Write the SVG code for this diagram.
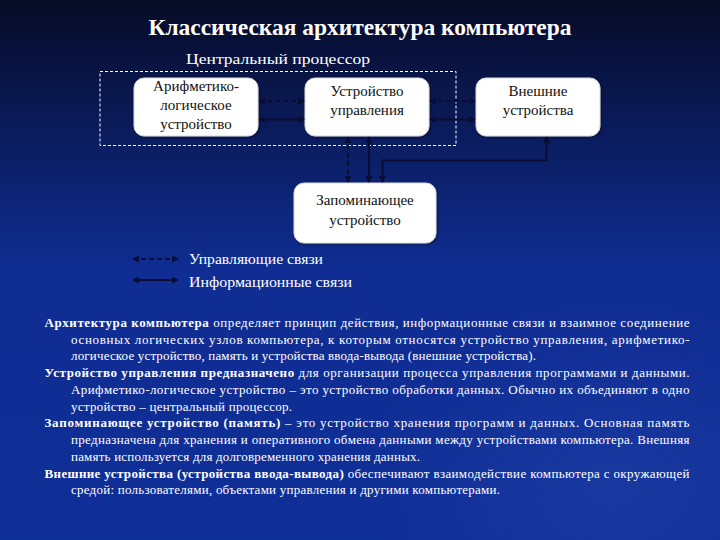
<svg xmlns="http://www.w3.org/2000/svg" width="720" height="540" viewBox="0 0 720 540" font-family="'Liberation Serif', 'Times New Roman', 'DejaVu Serif', serif">
<defs>
<linearGradient id="bg" x1="0" y1="0" x2="0" y2="1">
<stop offset="0" stop-color="#060b26"/>
<stop offset="0.25" stop-color="#0b1c5e"/>
<stop offset="0.5" stop-color="#0f2d92"/>
<stop offset="1" stop-color="#0f2f98"/>
</linearGradient>
<radialGradient id="glow" cx="0.85" cy="0.9" r="0.35">
<stop offset="0" stop-color="#2a4ab0" stop-opacity="0.35"/>
<stop offset="1" stop-color="#2a4ab0" stop-opacity="0"/>
</radialGradient>
<marker id="ah" viewBox="0 0 8 8" refX="7" refY="4" markerWidth="7" markerHeight="7" markerUnits="userSpaceOnUse" orient="auto-start-reverse">
<path d="M0,0 L8,4 L0,8 z" fill="#0a0d33"/>
</marker>
<filter id="sh" x="-10%" y="-10%" width="130%" height="130%">
<feDropShadow dx="1" dy="1" stdDeviation="1" flood-color="#000" flood-opacity="0.5"/>
</filter>
</defs>
<style>
text{font-family:'Liberation Serif','Times New Roman','DejaVu Serif',serif}
.box{fill:#ffffff;stroke:#d8d8d8;stroke-width:1;filter:url(#sh)}
.bt{font-size:15px;fill:#111;text-anchor:middle}
.lab{font-size:15px;fill:#ffffff}
.par{font-size:13px;fill:#ffffff}
.b{font-weight:bold}
.sol{stroke:#0a0d33;stroke-width:2;fill:none}
.dsh{stroke:#0a0d33;stroke-width:2;fill:none;stroke-dasharray:5,3}
</style>
<rect x="0" y="0" width="720" height="540" fill="url(#bg)"/>
<rect x="0" y="0" width="720" height="540" fill="url(#glow)"/>

<text x="360" y="35" font-size="24" font-weight="bold" fill="#ffffff" text-anchor="middle" textLength="423" lengthAdjust="spacingAndGlyphs">Классическая архитектура компьютера</text>

<g id="cpu">
<rect x="100" y="71.5" width="356" height="74" fill="none" stroke="#ffffff" stroke-width="1" stroke-dasharray="3,2"/>
<text class="lab" x="278" y="64" text-anchor="middle" textLength="184" lengthAdjust="spacingAndGlyphs">Центральный процессор</text>
</g>

<g id="alu">
<rect class="box" x="134" y="78" width="124" height="58" rx="10"/>
<text class="bt" x="196" y="91">Арифметико-</text>
<text class="bt" x="196" y="110">логическое</text>
<text class="bt" x="196" y="129">устройство</text>
</g>

<g id="cu">
<rect class="box" x="305" y="78" width="124" height="58" rx="10"/>
<text class="bt" x="367" y="96">Устройство</text>
<text class="bt" x="367" y="115">управления</text>
</g>

<g id="ext">
<rect class="box" x="476" y="78" width="124" height="58" rx="10"/>
<text class="bt" x="538" y="96">Внешние</text>
<text class="bt" x="538" y="115">устройства</text>
</g>

<g id="mem">
<rect class="box" x="294" y="183" width="142" height="60" rx="10"/>
<text class="bt" x="365" y="205">Запоминающее</text>
<text class="bt" x="365" y="225">устройство</text>
</g>

<g id="connectors">
<line class="dsh" x1="259" y1="101" x2="304" y2="101" marker-start="url(#ah)" marker-end="url(#ah)"/>
<line class="sol" x1="259" y1="119.5" x2="304" y2="119.5" marker-start="url(#ah)" marker-end="url(#ah)"/>
<line class="dsh" x1="430" y1="101" x2="475" y2="101" marker-start="url(#ah)" marker-end="url(#ah)"/>
<line class="sol" x1="430" y1="119.5" x2="475" y2="119.5" marker-start="url(#ah)" marker-end="url(#ah)"/>
<line class="dsh" x1="348" y1="137" x2="348" y2="182" marker-start="url(#ah)" marker-end="url(#ah)"/>
<line class="sol" x1="369" y1="137" x2="369" y2="182" marker-start="url(#ah)" marker-end="url(#ah)"/>
<polyline class="sol" points="546.5,137 546.5,160.5 382.5,160.5 382.5,182" marker-start="url(#ah)" marker-end="url(#ah)"/>
</g>

<g id="legend">
<line class="dsh" x1="133" y1="259" x2="178" y2="259" marker-start="url(#ah)" marker-end="url(#ah)"/>
<line class="sol" x1="133" y1="280" x2="178" y2="280" marker-start="url(#ah)" marker-end="url(#ah)"/>
<text class="lab" x="189" y="264" textLength="134" lengthAdjust="spacingAndGlyphs">Управляющие связи</text>
<text class="lab" x="189" y="287" textLength="163" lengthAdjust="spacingAndGlyphs">Информационные связи</text>
</g>

<g id="description">
<text class="par" x="44.5" y="327" textLength="645" lengthAdjust="spacing"><tspan class="b">Архитектура компьютера</tspan> определяет принцип действия, информационные связи и взаимное соединение</text>
<text class="par" x="71" y="343.5" textLength="618.5" lengthAdjust="spacing">основных логических узлов компьютера, к которым относятся устройство управления, арифметико-</text>
<text class="par" x="71" y="360" textLength="465" lengthAdjust="spacing">логическое устройство, память и устройства ввода-вывода (внешние устройства).</text>
<text class="par" x="44.5" y="377" textLength="645" lengthAdjust="spacing"><tspan class="b">Устройство управления предназначено</tspan> для организации процесса управления программами и данными.</text>
<text class="par" x="71" y="393.5" textLength="618.5" lengthAdjust="spacing">Арифметико-логическое устройство – это устройство обработки данных. Обычно их объединяют в одно</text>
<text class="par" x="71" y="410.5" textLength="221" lengthAdjust="spacing">устройство – центральный процессор.</text>
<text class="par" x="44.5" y="427" textLength="645" lengthAdjust="spacing"><tspan class="b">Запоминающее устройство (память)</tspan> – это устройство хранения программ и данных. Основная память</text>
<text class="par" x="71" y="444" textLength="618.5" lengthAdjust="spacing">предназначена для хранения и оперативного обмена данными между устройствами компьютера. Внешняя</text>
<text class="par" x="71" y="461" textLength="349" lengthAdjust="spacing">память используется для долговременного хранения данных.</text>
<text class="par" x="44.5" y="477.5" textLength="645" lengthAdjust="spacing"><tspan class="b">Внешние устройства (устройства ввода-вывода)</tspan> обеспечивают взаимодействие компьютера с окружающей</text>
<text class="par" x="71" y="494" textLength="429" lengthAdjust="spacing">средой: пользователями, объектами управления и другими компьютерами.</text>
</g>
</svg>
